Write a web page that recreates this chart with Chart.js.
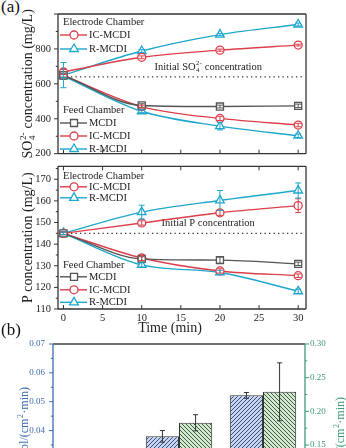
<!DOCTYPE html>
<html>
<head>
<meta charset="utf-8">
<script src="https://cdn.jsdelivr.net/npm/chart.js@4.4.1/dist/chart.umd.min.js"></script>
<style>
  body { margin: 0; width: 346px; height: 448px; overflow: hidden; background: #fff; position: relative; font-family: "Liberation Serif", serif; }
  canvas { position: absolute; left: 0; }
  .tag { position: absolute; left: 1px; font-size: 17px; color: #111; line-height: 20px; }
</style>
</head>
<body>
<div class="tag" style="top:-3px">(a)</div>
<canvas id="so4" width="346" height="160" style="top:0"></canvas>
<canvas id="phos" width="346" height="178" style="top:160px"></canvas>
<canvas id="flux" width="346" height="260" style="top:330px"></canvas>
<div class="tag" style="top:320px">(b)</div>
<script>
// sampling times (min)
const time = [0, 10, 20, 30];

// sulfate concentration (mg/L) and error
const so4ElecIC = [668, 752, 793, 822];
const so4ElecICErr = [14, 8, 6, 5];
const so4ElecR = [650, 788, 882, 940];
const so4ElecRErr = [72, 8, 6, 8];
const so4FeedMCDI = [648, 476, 470, 474];
const so4FeedMCDIErr = [10, 10, 8, 10];
const so4FeedIC = [648, 470, 402, 364];
const so4FeedICErr = [10, 8, 12, 10];
const so4FeedR = [645, 443, 358, 303];
const so4FeedRErr = [10, 8, 22, 10];
const so4Initial = 640;

// phosphorus concentration (mg/L) and error
const pElecIC = [145, 149.8, 154.5, 157.8];
const pElecICErr = [0.6, 1, 1.2, 3.2];
const pElecR = [145, 154.8, 160.2, 164.8];
const pElecRErr = [0.6, 3.2, 4.6, 3.5];
const pFeedMCDI = [145, 133.2, 132.6, 130.9];
const pFeedMCDIErr = [0.6, 1, 1.4, 0.8];
const pFeedIC = [145, 133.6, 127.6, 125.4];
const pFeedICErr = [0.6, 1.2, 1, 0.8];
const pFeedR = [145, 130.4, 126.9, 118.2];
const pFeedRErr = [0.6, 1, 1, 1];
const pInitial = 145;

// flux per process
const fluxGroups = ['MCDI', 'IC-MCDI', 'R-MCDI'];
const so4Flux = [0.030, 0.038, 0.0522];
const so4FluxErr = [0.002, 0.002, 0.001];
const pFlux = [0.125, 0.183, 0.229];
const pFluxErr = [0.01, 0.012, 0.043];

const RED = '#dc3f4a', CYAN = '#1ea7cd', GRAY = '#555';
const BLUE = '#3c6cb0', GREEN = '#3f9a7c';
const FONT = '"Liberation Serif", serif';

// text with stacked sub/superscripts, optionally rotated
function rich(ctx, parts, x, y, size, rot, color, align) {
  const f = s => s + 'px ' + FONT;
  let w = 0;
  const segs = parts.map(p => {
    if (typeof p === 'string') {
      ctx.font = f(size);
      const m = ctx.measureText(p).width;
      w += m;
      return { t: p, w: m };
    }
    ctx.font = f(size * 0.65);
    const m = Math.max(ctx.measureText(p.sub || '').width, ctx.measureText(p.sup || '').width) + 1;
    w += m;
    return { sub: p.sub, sup: p.sup, w: m };
  });
  ctx.save();
  ctx.translate(x, y);
  ctx.rotate(rot || 0);
  ctx.fillStyle = color;
  ctx.textBaseline = 'middle';
  ctx.textAlign = 'left';
  let cx = align === 'end' ? -w : -w / 2;
  segs.forEach(s => {
    if (s.t !== undefined) {
      ctx.font = f(size);
      ctx.fillText(s.t, cx, 0);
    } else {
      ctx.font = f(size * 0.65);
      if (s.sup) ctx.fillText(s.sup, cx + 0.5, -size * 0.33);
      if (s.sub) ctx.fillText(s.sub, cx + 0.5, size * 0.3);
    }
    cx += s.w;
  });
  ctx.restore();
}

function marker(ctx, style, x, y, color) {
  ctx.save();
  ctx.fillStyle = '#fff';
  ctx.strokeStyle = color;
  ctx.lineWidth = 1.3;
  ctx.beginPath();
  if (style === 'circle') {
    ctx.arc(x, y, 4, 0, Math.PI * 2);
  } else if (style === 'rect') {
    ctx.rect(x - 3.5, y - 3.5, 7, 7);
  } else {
    const r = 5;
    let a = 0;
    ctx.moveTo(x + Math.sin(a) * r, y - Math.cos(a) * r);
    a += Math.PI * 2 / 3;
    ctx.lineTo(x + Math.sin(a) * r, y - Math.cos(a) * r);
    a += Math.PI * 2 / 3;
    ctx.lineTo(x + Math.sin(a) * r, y - Math.cos(a) * r);
    ctx.closePath();
  }
  ctx.fill();
  ctx.stroke();
  ctx.restore();
}

// frame, ticks, error bars, reference line, in-plot legend and axis titles
const deco = {
  id: 'deco',
  beforeDatasetsDraw(chart, args, o) {
    if (!o.initial) return;
    const { ctx, chartArea: a } = chart;
    const y = chart.scales.y.getPixelForValue(o.initial.value);
    ctx.save();
    ctx.strokeStyle = '#333';
    ctx.lineWidth = 1.3;
    ctx.setLineDash([1.3, 3.2]);
    ctx.beginPath();
    ctx.moveTo(a.left + 4, y);
    ctx.lineTo(a.right - 2, y);
    ctx.stroke();
    ctx.restore();
    rich(ctx, o.initial.parts, chart.scales.x.getPixelForValue(o.initial.at), y - 10, 10.5, 0, '#222');
  },
  afterDatasetsDraw(chart, args, o) {
    const { ctx, chartArea: a } = chart;
    ctx.save();
    chart.data.datasets.forEach((ds, i) => {
      if (!ds.errors) return;
      const meta = chart.getDatasetMeta(i);
      const ys = chart.scales[meta.yAxisID];
      ctx.strokeStyle = o.errColor || ds.borderColor;
      ctx.lineWidth = 1;
      const c = o.cap || 3;
      meta.data.forEach((el, j) => {
        const d = ds.data[j];
        const v = typeof d === 'object' ? d.y : d;
        const e = ds.errors[j];
        const y1 = ys.getPixelForValue(v + e), y2 = ys.getPixelForValue(v - e);
        ctx.beginPath();
        ctx.moveTo(el.x, y1); ctx.lineTo(el.x, y2);
        ctx.moveTo(el.x - c, y1); ctx.lineTo(el.x + c, y1);
        ctx.moveTo(el.x - c, y2); ctx.lineTo(el.x + c, y2);
        ctx.stroke();
      });
    });

    const fr = o.frame;
    ctx.lineWidth = 1.3;
    const edge = (col, x1, y1, x2, y2) => {
      ctx.strokeStyle = col;
      ctx.beginPath(); ctx.moveTo(x1, y1); ctx.lineTo(x2, y2); ctx.stroke();
    };
    edge(fr.top, a.left, a.top, a.right, a.top);
    edge(fr.bottom, a.left, a.bottom, a.right, a.bottom);
    edge(fr.left, a.left, a.top, a.left, a.bottom);
    edge(fr.right, a.right, a.top, a.right, a.bottom);

    (o.ticks || []).forEach(t => {
      const s = chart.scales[t.scale];
      ctx.strokeStyle = t.color;
      ctx.lineWidth = 1;
      const k0 = Math.ceil(s.min / t.minor - 1e-6), k1 = Math.floor(s.max / t.minor + 1e-6);
      for (let k = k0; k <= k1; k++) {
        const v = k * t.minor;
        const q = v / t.major;
        const len = Math.abs(q - Math.round(q)) < 1e-6 ? t.len : t.len * 0.55;
        const p = s.getPixelForValue(v);
        ctx.beginPath();
        if (t.side === 'left') { ctx.moveTo(a.left, p); ctx.lineTo(a.left + (t.out ? -len : len), p); }
        if (t.side === 'right') { ctx.moveTo(a.right, p); ctx.lineTo(a.right + (t.out ? len : -len), p); }
        if (t.side === 'bottom') { ctx.moveTo(p, a.bottom); ctx.lineTo(p, a.bottom + (t.out ? len : -len)); }
        if (t.side === 'top') { ctx.moveTo(p, a.top); ctx.lineTo(p, a.top + (t.out ? -len : len)); }
        ctx.stroke();
      }
    });
    ctx.restore();
  },
  afterDraw(chart, args, o) {
    const { ctx, chartArea: a } = chart;
    (o.legend || []).forEach(r => {
      const y = a.top + r.dy;
      if (r.title) {
        ctx.save();
        ctx.font = '10.5px ' + FONT;
        ctx.fillStyle = '#222';
        ctx.textBaseline = 'middle';
        ctx.fillText(r.title, a.left + 5, y);
        ctx.restore();
        return;
      }
      ctx.save();
      ctx.strokeStyle = r.color;
      ctx.lineWidth = 1.4;
      ctx.beginPath();
      ctx.moveTo(a.left + 2, y);
      ctx.lineTo(a.left + 29, y);
      ctx.stroke();
      ctx.restore();
      marker(ctx, r.style, a.left + 16, y, r.color);
      ctx.save();
      ctx.font = '10.5px ' + FONT;
      ctx.fillStyle = '#222';
      ctx.textBaseline = 'middle';
      ctx.fillText(r.text, a.left + 31, y);
      ctx.restore();
    });
    (o.titles || []).forEach(t => {
      const y = t.y === 'mid' ? (a.top + a.bottom) / 2 : t.y;
      rich(ctx, t.parts, t.x, y, t.size, t.rot, t.color || '#222', t.align);
    });
  }
};
Chart.register(deco);

// fixed axis sizes so the plot areas line up across panels
const fixW = w => s => { s.width = w; s.paddingTop = 0; s.paddingBottom = 0; };
const fixH = h => s => { s.height = h; s.paddingLeft = 0; s.paddingRight = 0; };

function series(label, ys, errs, color, style) {
  return {
    label,
    data: time.map((t, i) => ({ x: t, y: ys[i] })),
    errors: errs,
    borderColor: color,
    backgroundColor: color,
    borderWidth: 1.4,
    pointStyle: style,
    pointRadius: style === 'circle' ? 4 : 5,
    pointBorderWidth: 1.3,
    pointBackgroundColor: '#fff',
    pointBorderColor: color,
    cubicInterpolationMode: 'monotone'
  };
}

const tickFont = { family: FONT, size: 10.5 };
const frameGray = { top: '#333', bottom: '#333', left: '#333', right: '#333' };

function electrodeLegend(d) {
  return [
    { title: 'Electrode Chamber', dy: d[0] },
    { text: 'IC-MCDI', color: RED, style: 'circle', dy: d[1] },
    { text: 'R-MCDI', color: CYAN, style: 'triangle', dy: d[2] },
    { title: 'Feed Chamber', dy: d[3] },
    { text: 'MCDI', color: GRAY, style: 'rect', dy: d[4] },
    { text: 'IC-MCDI', color: RED, style: 'circle', dy: d[5] },
    { text: 'R-MCDI', color: CYAN, style: 'triangle', dy: d[6] }
  ];
}

// sulfate panel
new Chart(document.getElementById('so4'), {
  type: 'line',
  data: {
    datasets: [
      series('Feed MCDI', so4FeedMCDI, so4FeedMCDIErr, GRAY, 'rect'),
      series('Feed IC-MCDI', so4FeedIC, so4FeedICErr, RED, 'circle'),
      series('Feed R-MCDI', so4FeedR, so4FeedRErr, CYAN, 'triangle'),
      series('Electrode IC-MCDI', so4ElecIC, so4ElecICErr, RED, 'circle'),
      series('Electrode R-MCDI', so4ElecR, so4ElecRErr, CYAN, 'triangle')
    ]
  },
  options: {
    responsive: false,
    animation: false,
    layout: { padding: { top: 14, right: 40, bottom: 4, left: 0 } },
    scales: {
      x: {
        type: 'linear', min: -0.7, max: 31,
        ticks: { display: false },
        grid: { display: false, drawTicks: false },
        border: { display: false },
        afterFit: fixH(0)
      },
      y: {
        min: 200, max: 1000,
        ticks: { stepSize: 200, font: tickFont, color: '#222', padding: 7, callback: v => (v >= 1000 ? '' : v) },
        grid: { display: false, drawTicks: false },
        border: { display: false },
        afterFit: fixW(58)
      }
    },
    plugins: {
      legend: { display: false },
      tooltip: { enabled: false },
      deco: {
        frame: frameGray,
        ticks: [
          { scale: 'y', side: 'left', major: 200, minor: 100, len: 4, out: true, color: '#333' },
          { scale: 'x', side: 'bottom', major: 5, minor: 5, len: 4, out: false, color: '#333' }
        ],
        initial: { value: so4Initial, at: 18.5, parts: ['Initial SO', { sub: '4', sup: '2-' }, ' concentration'] },
        legend: electrodeLegend([8, 21, 35, 96, 109, 122, 135]),
        titles: [
          { parts: ['SO', { sub: '4', sup: '2-' }, ' concentration (mg/L)'], x: 28, y: 'mid', size: 14, rot: -Math.PI / 2 }
        ]
      }
    }
  }
});

// phosphorus panel
new Chart(document.getElementById('phos'), {
  type: 'line',
  data: {
    datasets: [
      series('Feed MCDI', pFeedMCDI, pFeedMCDIErr, GRAY, 'rect'),
      series('Feed IC-MCDI', pFeedIC, pFeedICErr, RED, 'circle'),
      series('Feed R-MCDI', pFeedR, pFeedRErr, CYAN, 'triangle'),
      series('Electrode IC-MCDI', pElecIC, pElecICErr, RED, 'circle'),
      series('Electrode R-MCDI', pElecR, pElecRErr, CYAN, 'triangle')
    ]
  },
  options: {
    responsive: false,
    animation: false,
    layout: { padding: { top: 3, right: 40, bottom: 0, left: 0 } },
    scales: {
      x: {
        type: 'linear', min: -0.7, max: 31,
        ticks: { stepSize: 5, includeBounds: false, font: tickFont, color: '#222', padding: 3, maxRotation: 0 },
        grid: { display: false, drawTicks: false },
        border: { display: false },
        afterFit: fixH(29)
      },
      y: {
        min: 110, max: 176,
        ticks: { stepSize: 10, includeBounds: false, font: tickFont, color: '#222', padding: 7 },
        grid: { display: false, drawTicks: false },
        border: { display: false },
        afterFit: fixW(58)
      }
    },
    plugins: {
      legend: { display: false },
      tooltip: { enabled: false },
      deco: {
        frame: frameGray,
        ticks: [
          { scale: 'y', side: 'left', major: 10, minor: 5, len: 4, out: true, color: '#333' },
          { scale: 'x', side: 'bottom', major: 5, minor: 5, len: 4, out: false, color: '#333' },
          { scale: 'x', side: 'top', major: 5, minor: 5, len: 4, out: false, color: '#333' }
        ],
        initial: { value: pInitial, at: 18.5, parts: ['Initial P concentration'] },
        legend: electrodeLegend([9.5, 20.5, 31.5, 98.5, 110.5, 123.5, 136]),
        titles: [
          { parts: ['P concentration (mg/L)'], x: 28, y: 'mid', size: 14, rot: -Math.PI / 2 },
          { parts: ['Time (min)'], x: 170, y: 168, size: 14, rot: 0 }
        ]
      }
    }
  }
});

// hatched fills for the flux bars
const fluxCtx = document.getElementById('flux').getContext('2d');
function hatch(bg, fg, dir) {
  const n = 4;
  const c = document.createElement('canvas');
  c.width = c.height = n;
  const g = c.getContext('2d');
  g.fillStyle = bg;
  g.fillRect(0, 0, n, n);
  g.strokeStyle = fg;
  g.lineWidth = 1;
  g.beginPath();
  if (dir > 0) {
    g.moveTo(-1, n + 1); g.lineTo(n + 1, -1);
    g.moveTo(-1, 1); g.lineTo(1, -1);
    g.moveTo(n - 1, n + 1); g.lineTo(n + 1, n - 1);
  } else {
    g.moveTo(-1, -1); g.lineTo(n + 1, n + 1);
    g.moveTo(n - 1, -1); g.lineTo(n + 1, 1);
    g.moveTo(-1, n - 1); g.lineTo(1, n + 1);
  }
  g.stroke();
  return fluxCtx.createPattern(c, 'repeat');
}

// flux panel
new Chart(fluxCtx, {
  type: 'bar',
  data: {
    labels: fluxGroups,
    datasets: [
      { label: 'SO4 flux', data: so4Flux, errors: so4FluxErr, yAxisID: 'y', backgroundColor: hatch('#c6d5f0', '#3a4a7a', 1), borderColor: '#333', borderWidth: 1 },
      { label: 'P flux', data: pFlux, errors: pFluxErr, yAxisID: 'y1', backgroundColor: hatch('#d3ead1', '#3d5a44', -1), borderColor: '#333', borderWidth: 1 }
    ]
  },
  options: {
    responsive: false,
    animation: false,
    categoryPercentage: 0.79,
    barPercentage: 1,
    layout: { padding: { top: 14, right: 0, bottom: 0, left: 0 } },
    scales: {
      x: {
        ticks: { font: tickFont, color: '#222' },
        grid: { display: false, drawTicks: false },
        border: { display: false },
        afterFit: fixH(44)
      },
      y: {
        position: 'left',
        min: 0, max: 0.07,
        ticks: { stepSize: 0.01, font: { family: FONT, size: 9 }, color: BLUE, padding: 8, callback: v => v.toFixed(2) },
        grid: { display: false, drawTicks: false },
        border: { display: false },
        afterFit: fixW(53)
      },
      y1: {
        position: 'right',
        min: 0, max: 0.30,
        ticks: { stepSize: 0.05, font: { family: FONT, size: 9 }, color: GREEN, padding: 5, callback: v => v.toFixed(2) },
        grid: { display: false, drawTicks: false },
        border: { display: false },
        afterFit: fixW(41)
      }
    },
    plugins: {
      legend: { display: false },
      tooltip: { enabled: false },
      deco: {
        errColor: '#333',
        cap: 2.5,
        frame: { top: '#444', bottom: '#444', left: BLUE, right: GREEN },
        ticks: [
          { scale: 'y', side: 'left', major: 0.01, minor: 0.005, len: 4, out: true, color: BLUE },
          { scale: 'y1', side: 'right', major: 0.05, minor: 0.025, len: 4, out: true, color: GREEN }
        ],
        titles: [
          { parts: ['Flux, mmol/(cm', { sup: '2' }, '·min)'], x: 25, y: 57, size: 12, rot: -Math.PI / 2, color: BLUE, align: 'end' },
          { parts: ['Flux, mmol/(cm', { sup: '2' }, '·min)'], x: 341, y: 67, size: 12, rot: -Math.PI / 2, color: GREEN, align: 'end' }
        ]
      }
    }
  }
});
</script>
</body>
</html>
